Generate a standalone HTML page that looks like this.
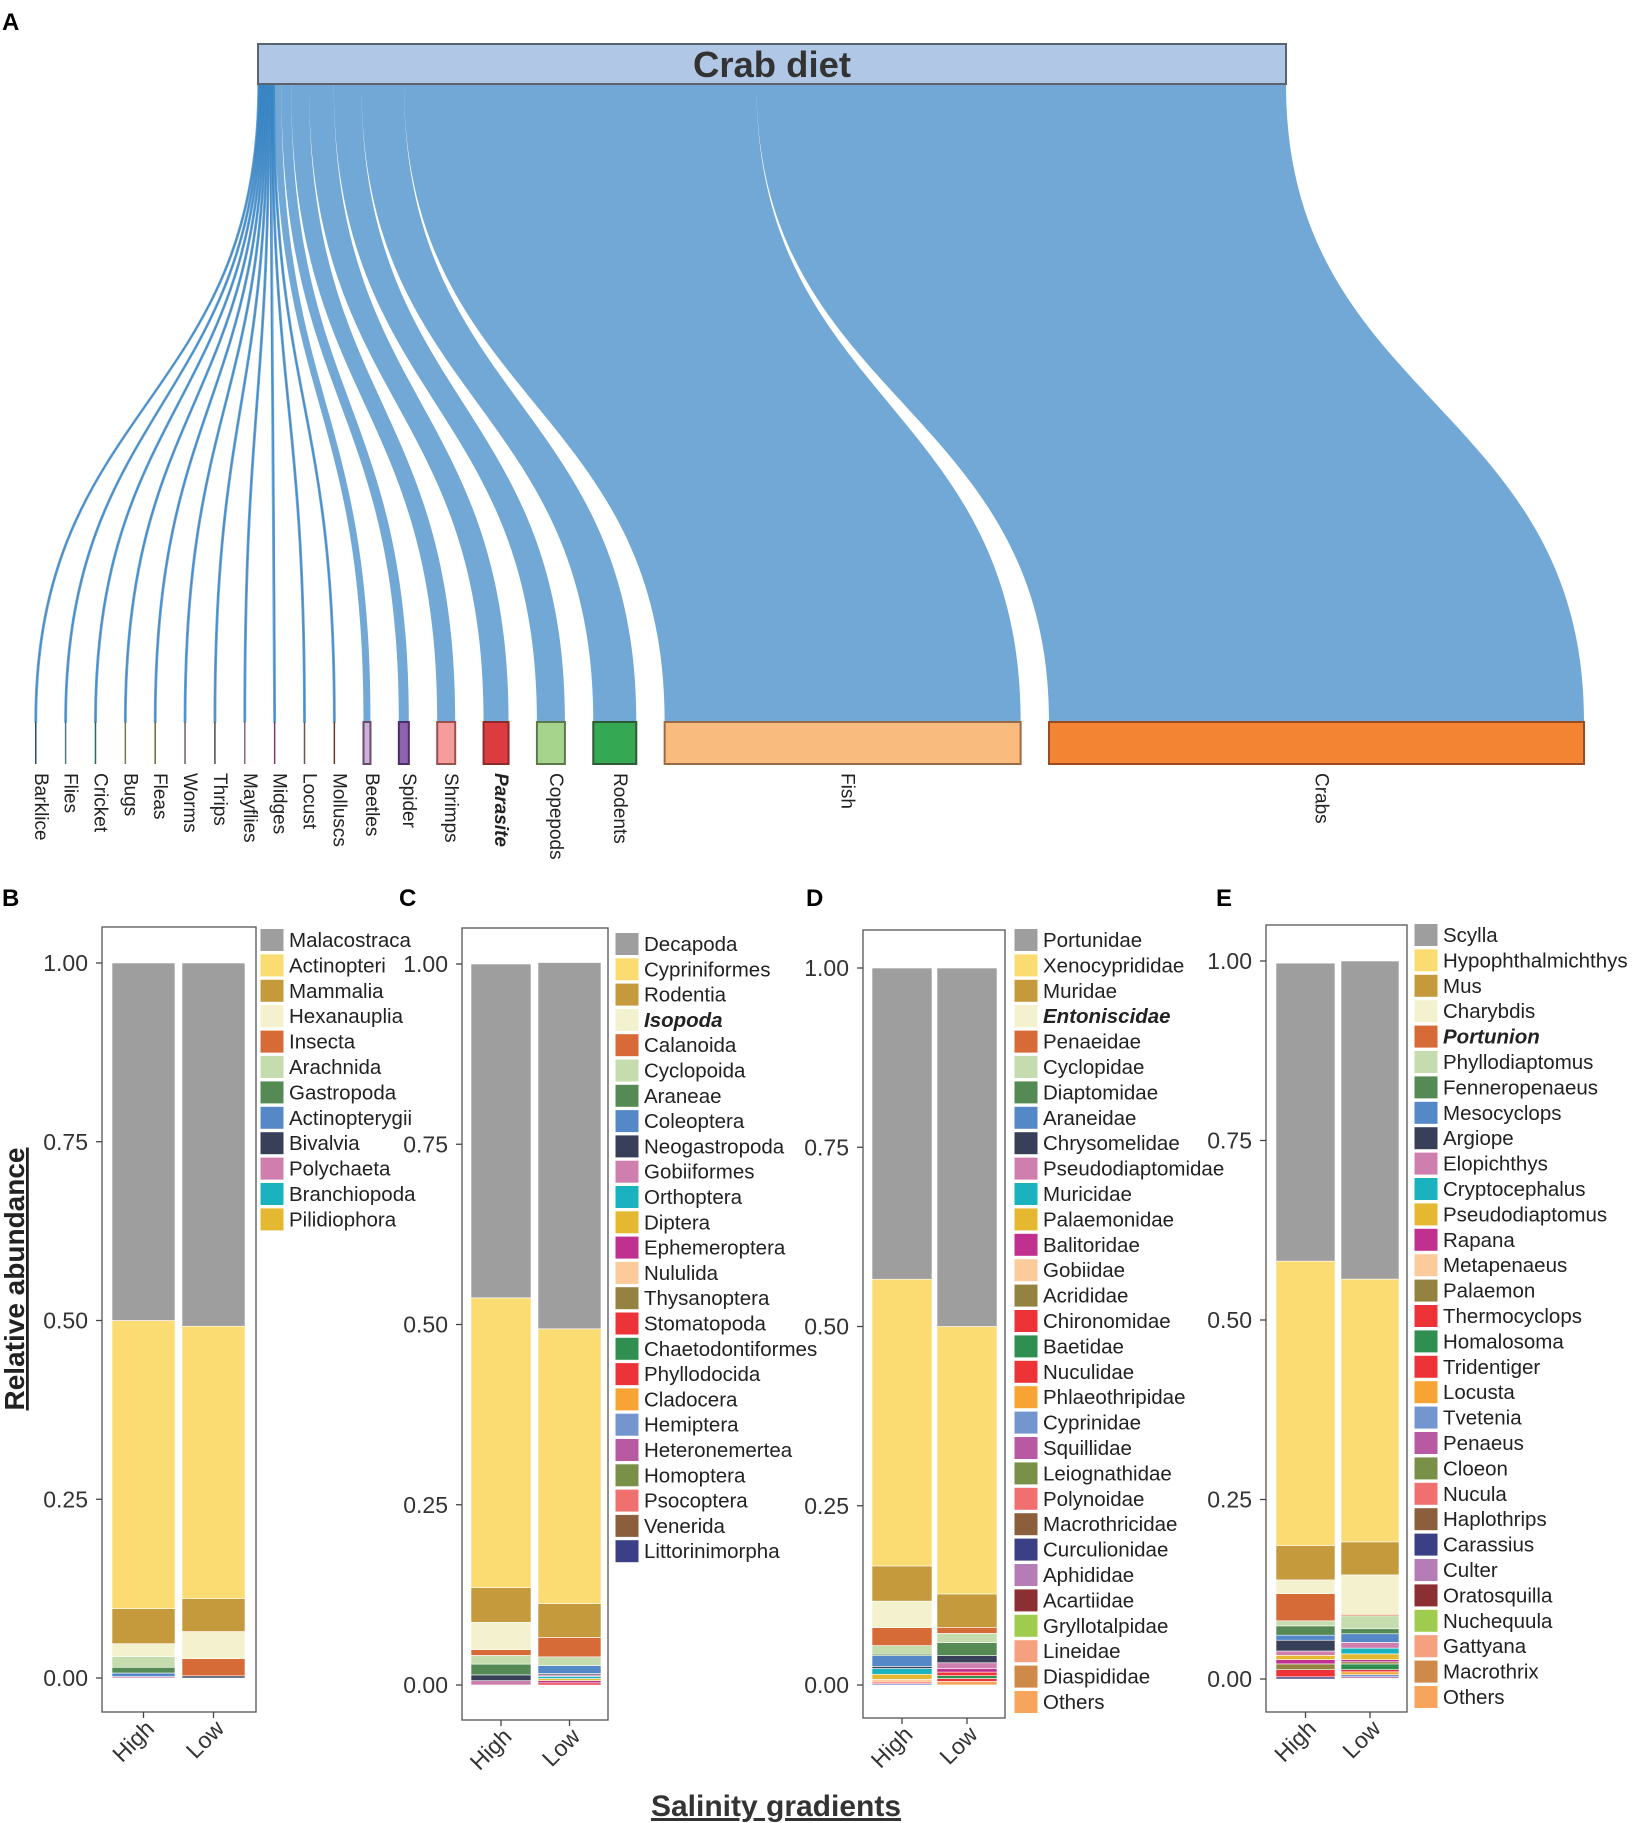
<!DOCTYPE html>
<html><head><meta charset="utf-8"><style>
html,body{margin:0;padding:0;background:#fff}
svg{display:block;font-family:"Liberation Sans",Arial,sans-serif}
</style></head><body>
<svg id="fig" width="1634" height="1823" viewBox="0 0 1634 1823" xmlns="http://www.w3.org/2000/svg">
<g id="sankey"></g>
<g id="bars"></g>
<text x="2" y="30" font-size="24" font-weight="bold">A</text>
<text x="2" y="906" font-size="24" font-weight="bold">B</text>
<text x="399" y="906" font-size="24" font-weight="bold">C</text>
<text x="806" y="906" font-size="24" font-weight="bold">D</text>
<text x="1216" y="906" font-size="24" font-weight="bold">E</text>
<text transform="translate(24,1279) rotate(-90)" text-anchor="middle" font-size="28" font-weight="bold" text-decoration="underline" fill="#222">Relative abundance</text>
<text x="776" y="1816" text-anchor="middle" font-size="30" font-weight="bold" text-decoration="underline" fill="#333">Salinity gradients</text>
</svg>
<script>
const NS='http://www.w3.org/2000/svg';
// ---------- Sankey data ----------
const nodeNames=['Barklice','Flies','Cricket','Bugs','Fleas','Worms','Thrips','Mayflies','Midges','Locust','Molluscs','Beetles','Spider','Shrimps','Parasite','Copepods','Rodents','Fish','Crabs'];
const nodeValues=[1.5,1.5,1.5,1.5,1.5,1.5,1.5,1.5,1.5,1.5,1.5,7,10,18,25,28,43,356,535];
const nodeFill=['#2d4b66','#557a80','#1f6b66','#7a7a48','#6b6a33','#6b6060','#4b4b4b','#8b6b78','#7b3b6b','#6b5550','#6b3a2a','#c8b0d8','#8e62ad','#f59c9c','#dc3b3f','#a6d48c','#34a853','#fabb7e','#f38433'];
const nodeStroke=['#2d4b66','#557a80','#1f6b66','#7a7a48','#6b6a33','#6b6060','#4b4b4b','#8b6b78','#7b3b6b','#6b5550','#5a2a1a','#6b4b6b','#4b2f6b','#9b5050','#8b2a2a','#5a7a4a','#2f5a35','#9b6b45','#9b4b1f'];
// ---------- Bar data ----------
const palette=['#9e9e9e','#fbdc72','#c49a3c','#f4f1cf','#d76b38','#c5dcaf','#568a55','#5588c7','#384059','#cf7fae','#1bb2bf','#e5b832','#c0308f','#fbcb9b','#938240','#ec3337','#2f8e50','#ec3337','#f7a434','#7595cf','#b85aa2','#789047','#f07070','#8b5e3c','#3a3f86','#b57db5','#8b2f32','#9fcc4e','#f5a07e','#cf8a4a','#f7a55c'];
const categories=['High','Low'];
const yTicks=[0,0.25,0.5,0.75,1];
const yTickLabels=['0.00','0.25','0.50','0.75','1.00'];
const bLabels=['Malacostraca','Actinopteri','Mammalia','Hexanauplia','Insecta','Arachnida','Gastropoda','Actinopterygii','Bivalvia','Polychaeta','Branchiopoda','Pilidiophora'];
const bHigh=[0.500,0.403,0.049,0.018,0,0.015,0.008,0.005,0,0.002,0,0];
const bLow=[0.508,0.381,0.046,0.038,0.024,0,0,0,0.003,0,0,0];
const cLabels=['Decapoda','Cypriniformes','Rodentia','Isopoda','Calanoida','Cyclopoida','Araneae','Coleoptera','Neogastropoda','Gobiiformes','Orthoptera','Diptera','Ephemeroptera','Nululida','Thysanoptera','Stomatopoda','Chaetodontiformes','Phyllodocida','Cladocera','Hemiptera','Heteronemertea','Homoptera','Psocoptera','Venerida','Littorinimorpha'];
const cHigh=[0.463,0.402,0.048,0.038,0.008,0.012,0.015,0,0.008,0.006,0,0,0,0,0,0,0,0,0,0,0,0,0,0,0];
const cLow=[0.508,0.381,0.047,0,0.027,0.012,0,0.011,0.002,0.002,0.003,0.003,0.003,0,0,0.003,0,0,0,0,0,0,0,0,0];
const dLabels=['Portunidae','Xenocyprididae','Muridae','Entoniscidae','Penaeidae','Cyclopidae','Diaptomidae','Araneidae','Chrysomelidae','Pseudodiaptomidae','Muricidae','Palaemonidae','Balitoridae','Gobiidae','Acrididae','Chironomidae','Baetidae','Nuculidae','Phlaeothripidae','Cyprinidae','Squillidae','Leiognathidae','Polynoidae','Macrothricidae','Curculionidae','Aphididae','Acartiidae','Gryllotalpidae','Lineidae','Diaspididae','Others'];
const dHigh=[0.434,0.400,0.049,0.037,0.025,0.012,0.002,0.015,0.003,0,0.008,0.007,0,0.004,0,0,0,0.002,0,0.002,0,0,0,0,0,0,0,0,0,0,0];
const dLow=[0.500,0.373,0.047,0,0.008,0.013,0.018,0,0.010,0.008,0,0,0.005,0,0,0.005,0.004,0.004,0,0,0,0,0,0,0,0,0,0,0,0,0.005];
const eLabels=['Scylla','Hypophthalmichthys','Mus','Charybdis','Portunion','Phyllodiaptomus','Fenneropenaeus','Mesocyclops','Argiope','Elopichthys','Cryptocephalus','Pseudodiaptomus','Rapana','Metapenaeus','Palaemon','Thermocyclops','Homalosoma','Tridentiger','Locusta','Tvetenia','Penaeus','Cloeon','Nucula','Haplothrips','Carassius','Culter','Oratosquilla','Nuchequula','Gattyana','Macrothrix','Others'];
const eHigh=[0.415,0.396,0.048,0.019,0.038,0.007,0.013,0.007,0.015,0.006,0,0.006,0.006,0,0.008,0,0,0.010,0,0,0,0,0,0,0.003,0,0,0,0,0,0];
const eLow=[0.443,0.366,0.046,0.055,0.002,0.018,0.007,0.012,0,0.008,0.008,0.008,0.003,0,0.003,0,0.008,0.003,0.004,0.003,0.002,0,0,0,0,0,0,0,0,0,0.001];
const italicLegend=['Isopoda','Entoniscidae','Portunion'];

function mk(tag,attrs,parent){const e=document.createElementNS(NS,tag);for(const k in attrs)e.setAttribute(k,attrs[k]);parent.appendChild(e);return e;}

// ---------- Sankey ----------
(function(){
  const g=document.getElementById('sankey');
  const srcL=258,srcR=1286,yTop=84,yBot=722,nodeH=42,botL=35,botR=1584;
  const total=nodeValues.reduce((a,b)=>a+b,0);
  const k=(srcR-srcL)/total;
  const kb=1;
  const gap=((botR-botL)-total*kb)/(nodeValues.length-1);
  const flows=mk('g',{},g);
  
  
  let sx=srcL,bx=botL;
  nodeValues.forEach((v,i)=>{
    const w=v*k, wb=v*kb;
    const s0=sx,s1=sx+w,b0=bx,b1=bx+wb;
    const ym=(yTop+yBot)/2;
    const d=`M${s0},${yTop} C${s0},${ym} ${b0},${ym} ${b0},${yBot} L${b1},${yBot} C${b1},${ym} ${s1},${ym} ${s1},${yTop} Z`;
    const p=mk('path',{d:d,fill:'#2f7fc1','fill-opacity':'0.68',stroke:'#2f7fc1','stroke-opacity':'0.68','stroke-width':wb<3?'1.4':'0'},flows);
    
    
    const r=mk('rect',{x:b0,y:yBot,width:Math.max(wb,1.5),height:nodeH,fill:nodeFill[i],stroke:nodeStroke[i],'stroke-width':wb<3?'0':'2'},g);
    
    
    const cx=b0+wb/2;
    const t=mk('text',{transform:`translate(${cx-1},${yBot+nodeH+9}) rotate(90)`,'font-size':'19',fill:'#222'},g);
    if(nodeNames[i]==='Parasite'){t.setAttribute('font-weight','bold');t.setAttribute('font-style','italic');}
    t.textContent=nodeNames[i];
    
    
    sx+=w;bx+=wb+gap;
  });
  const src=mk('rect',{x:srcL,y:44,width:srcR-srcL,height:40,fill:'#b0c8e6',stroke:'#5a6470','stroke-width':'2'},g);
  
  
  const st=mk('text',{x:(srcL+srcR)/2,y:77,'text-anchor':'middle','font-size':'36','font-weight':'bold',fill:'#333',textLength:'158',lengthAdjust:'spacingAndGlyphs'},g);
  st.textContent='Crab diet';
  
  
})();

// ---------- Bar panels ----------
const panels=[
 {id:'b',labels:bLabels,high:bHigh,low:bLow,box:[102,927,256,1712],y1:963,y0:1678,bars:[[112,175],[182,245]],lx:260,ly:940,step:25.4},
 {id:'c',labels:cLabels,high:cHigh,low:cLow,box:[462,928,608,1720],y1:964,y0:1685,bars:[[471,531],[538,601]],lx:615,ly:944,step:25.3},
 {id:'d',labels:dLabels,high:dHigh,low:dLow,box:[863,930,1005,1718],y1:968,y0:1685,bars:[[872,932],[937,997]],lx:1014,ly:940,step:25.4},
 {id:'e',labels:eLabels,high:eHigh,low:eLow,box:[1266,925,1407,1712],y1:961,y0:1679,bars:[[1276,1335],[1341,1399]],lx:1414,ly:935,step:25.4}
];
panels.forEach(P=>{
  const g=mk('g',{},document.getElementById('bars'));
  
  
  const yScale=v=>P.y0-(P.y0-P.y1)*v;
  const [bx0,by0,bx1,by1]=P.box;
  const frame=mk('rect',{x:bx0,y:by0,width:bx1-bx0,height:by1-by0,fill:'none',stroke:'#555','stroke-width':'1.3'},g);
  
  
  yTicks.forEach((v,i)=>{
    const y=yScale(v);
    const tk=mk('line',{x1:bx0-6,x2:bx0,y1:y,y2:y,stroke:'#444','stroke-width':'1.3'},g);
    
    
    const t=mk('text',{x:bx0-14,y:y+8,'text-anchor':'end','font-size':'23',fill:'#333'},g);
    t.textContent=yTickLabels[i];
    
    
  });
  [P.high,P.low].forEach((series,si)=>{
    const [x0,x1]=P.bars[si];
    let cum=0;
    for(let j=series.length-1;j>=0;j--){
      const v=series[j]; if(v<=0) continue;
      const ya=yScale(cum), yb=yScale(cum+v);
      const r=mk('rect',{x:x0,y:yb,width:x1-x0,height:ya-yb,fill:palette[j],stroke:'#fff','stroke-width':'0.6'},g);
      
      
      cum+=v;
    }
    const cx=(x0+x1)/2;
    const tk=mk('line',{x1:cx,x2:cx,y1:by1,y2:by1+6,stroke:'#444','stroke-width':'1.3'},g);
    
    
    const t=mk('text',{transform:`translate(${cx+12},${by1+18}) rotate(-45)`,'text-anchor':'end','font-size':'23',fill:'#333'},g);
    t.textContent=categories[si];
    
    
  });
  P.labels.forEach((name,j)=>{
    const y=P.ly+j*P.step;
    const sw=mk('rect',{x:P.lx,y:y-11.5,width:24,height:23,fill:palette[j],stroke:'#fff','stroke-width':'1'},g);
    
    
    const t=mk('text',{x:P.lx+29,y:y+7,'font-size':'20.5',fill:'#222'},g);
    if(italicLegend.includes(name)){t.setAttribute('font-weight','bold');t.setAttribute('font-style','italic');}
    t.textContent=name;
    
    
  });
});
</script>
</body></html>
